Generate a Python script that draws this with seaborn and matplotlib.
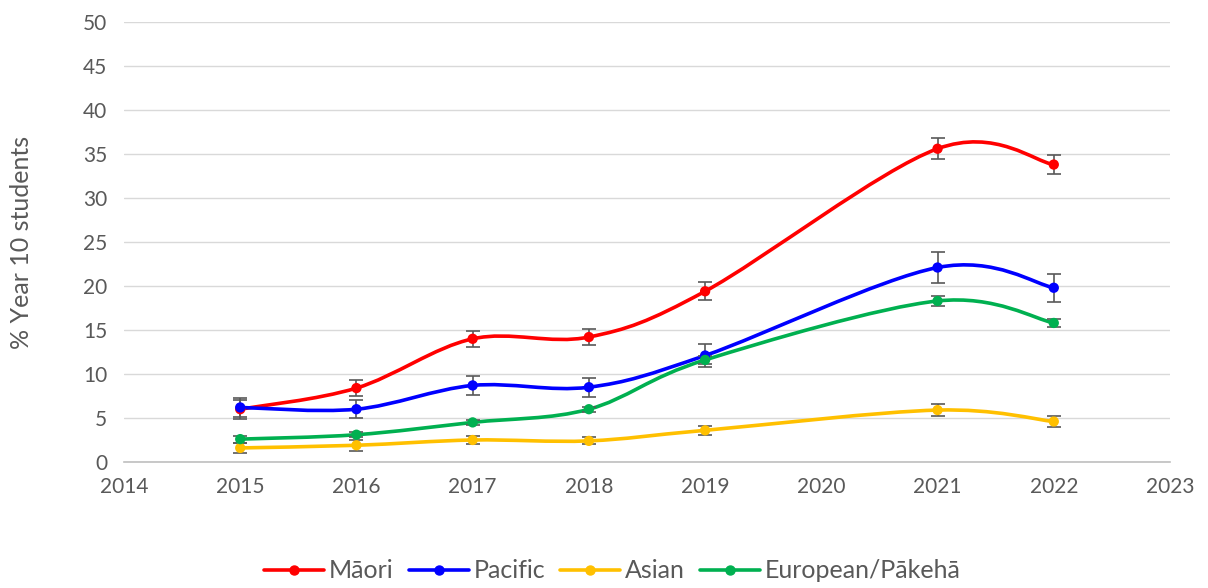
import numpy as np
import pandas as pd
import seaborn as sns
import matplotlib.pyplot as plt
from matplotlib.path import Path
from matplotlib.patches import PathPatch
from matplotlib.lines import Line2D

years = [2015, 2016, 2017, 2018, 2019, 2021, 2022]
groups = ["Māori", "Pacific", "Asian", "European/Pākehā"]
colors = ["#FF0000", "#0000FF", "#FFC000", "#00B050"]

maori = [6.0, 8.4, 14.0, 14.2, 19.4, 35.6, 33.8]
pacific = [6.2, 6.0, 8.7, 8.5, 12.1, 22.1, 19.8]
asian = [1.6, 1.9, 2.5, 2.4, 3.6, 5.9, 4.6]
european = [2.6, 3.1, 4.5, 6.0, 11.6, 18.3, 15.8]

maori_err = [1.1, 0.9, 0.9, 0.9, 1.0, 1.2, 1.1]
pacific_err = [1.1, 1.0, 1.1, 1.1, 1.3, 1.8, 1.6]
asian_err = [0.6, 0.6, 0.5, 0.4, 0.5, 0.7, 0.6]
european_err = [0.4, 0.3, 0.3, 0.3, 0.5, 0.6, 0.5]

values = [maori, pacific, asian, european]
errors = [maori_err, pacific_err, asian_err, european_err]

df = pd.DataFrame(
    [
        {"year": y, "value": v, "err": e, "group": g}
        for g, vals, errs in zip(groups, values, errors)
        for y, v, e in zip(years, vals, errs)
    ]
)


def smooth_path(x, y):
    # Excel style smoothed line: cubic bezier with tension 1/6
    pts = np.column_stack([x, y]).astype(float)
    n = len(pts)
    verts = [pts[0]]
    codes = [Path.MOVETO]
    for i in range(n - 1):
        p0 = pts[i - 1] if i > 0 else pts[i]
        p1 = pts[i]
        p2 = pts[i + 1]
        p3 = pts[i + 2] if i + 2 < n else pts[i + 1]
        c1 = p1 + (p2 - p0) / 6
        c2 = p2 - (p3 - p1) / 6
        verts += [c1, c2, p2]
        codes += [Path.CURVE4] * 3
    return Path(verts, codes)


sns.set_style("white")
plt.rcParams["font.family"] = ["Lato", "DejaVu Sans"]

fig = plt.figure(figsize=(12.08, 5.88), dpi=100)
ax = fig.add_axes([124 / 1208, 1 - 462 / 588, (1170 - 124) / 1208, 440 / 588])

for g, c in zip(groups, colors):
    d = df[df["group"] == g]
    ax.add_patch(
        PathPatch(smooth_path(d["year"], d["value"]), fill=False,
                  edgecolor=c, lw=2.6, zorder=3, capstyle="round")
    )
    ax.errorbar(d["year"], d["value"], yerr=d["err"], fmt="none",
                ecolor="#595959", elinewidth=1.2, capsize=5, capthick=1.2,
                zorder=4)

sns.scatterplot(data=df, x="year", y="value", hue="group", hue_order=groups,
                palette=colors, s=55, edgecolor="none", ax=ax, zorder=5,
                legend=False)

ax.set_xlim(2014, 2023)
ax.set_ylim(0, 50)
ax.set_xticks(range(2014, 2024))
ax.set_yticks(range(0, 51, 5))
ax.grid(axis="y", color="#D9D9D9", lw=1)
ax.set_axisbelow(True)
for s in ["top", "right", "left"]:
    ax.spines[s].set_visible(False)
ax.spines["bottom"].set_color("#BFBFBF")
ax.spines["bottom"].set_linewidth(1.2)
ax.tick_params(axis="x", length=5, color="#BFBFBF", width=1.2,
               labelsize=15, labelcolor="#595959", pad=6)
ax.tick_params(axis="y", length=0, labelsize=15, labelcolor="#595959", pad=12)
ax.set_xlabel("")
ax.set_ylabel("% Year 10 students", fontsize=18, color="#595959", labelpad=36)

handles = [
    Line2D([], [], color=c, lw=2.6, marker="o", markersize=6.5)
    for c in colors
]
fig.legend(handles, groups, loc="center", bbox_to_anchor=(0.507, 1 - 571 / 588),
           ncol=4, frameon=False, fontsize=18, handlelength=2.4,
           handletextpad=0.2, columnspacing=0.6, labelcolor="#595959")

fig.savefig("out.png", dpi=100)
